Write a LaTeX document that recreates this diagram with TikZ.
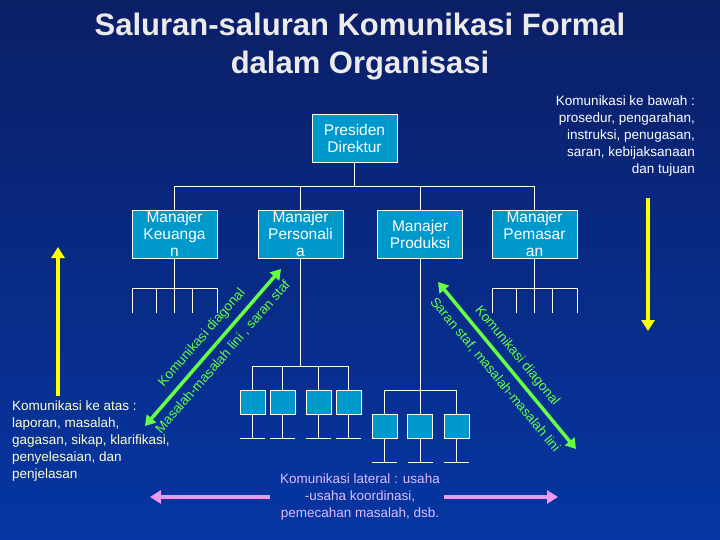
\documentclass[tikz,border=0pt]{standalone}
\usepackage{fontspec}
\setmainfont{Liberation Sans}
\usetikzlibrary{arrows.meta}
\definecolor{bgtop}{HTML}{0B1F66}
\definecolor{bgbot}{HTML}{0636A3}
\definecolor{boxc}{HTML}{0099CC}
\definecolor{grn}{HTML}{66FF44}
\definecolor{yel}{HTML}{FFFF00}
\definecolor{pnk}{HTML}{EE99EE}
\definecolor{lyel}{HTML}{FFFFCC}
\definecolor{lav}{HTML}{DDBBFF}
\begin{document}
\begin{tikzpicture}[x=1pt,y=-1pt,
  box/.style={draw=white,fill=boxc,line width=0.8pt,minimum width=85pt,minimum height=48pt,inner sep=0pt,text=white,align=center,font=\fontsize{15.5}{17}\selectfont},
  sbox/.style={draw=white,fill=boxc,line width=0.8pt,minimum width=25pt,minimum height=24pt,inner sep=0pt},
  ln/.style={draw=white,line width=0.8pt},
  dg/.style={grn,line width=3.5pt,{Triangle[width=12pt,length=10pt]}-{Triangle[width=12pt,length=10pt]}},
  dgt/.style={text=grn,font=\fontsize{13.5}{15}\selectfont,inner sep=0pt},
  bigarrow/.style={line width=4pt,-{Triangle[width=13pt,length=11pt]}}]
\shade[top color=bgtop,bottom color=bgbot] (0,0) rectangle (720,540);
\useasboundingbox (0,0) rectangle (720,540);
% title
\node[text=white!92!black,font=\bfseries\fontsize{31}{38}\selectfont,align=center] (title) at (360,47) {Saluran-saluran Komunikasi Formal\\dalam Organisasi};
% boxes
\node[box] (pd) at (354.5,138) {Presiden\\Direktur};
\node[box] (mk) at (174.5,234) {Manajer\\Keuanga\\n};
\node[box] (mp) at (300.5,234) {Manajer\\Personali\\a};
\node[box] (mpr) at (420,234) {Manajer\\Produksi};
\node[box] (mps) at (534.5,234) {Manajer\\Pemasar\\an};
% top tree
\coordinate (jt) at (354.5,186);
\draw[ln] (pd.south) -- (jt);
\draw[ln] (mk.north) |- (mps.north |- jt) -- (mps.north);
\draw[ln] (mp.north) -- (mp.north |- jt);
\draw[ln] (mpr.north) -- (mpr.north |- jt);
% Keuangan subtree
\coordinate (k0) at (174.5,288);
\draw[ln] (mk.south) -- (k0);
\draw[ln] (132,313) -- (132,288) -- (217,288) -- (217,313);
\foreach \x in {156,174.5,192}{\draw[ln] (\x,288) -- (\x,313);}
% Pemasaran subtree
\coordinate (p0) at (534.5,288);
\draw[ln] (mps.south) -- (p0);
\draw[ln] (492,313) -- (492,288) -- (577,288) -- (577,313);
\foreach \x in {516,534.5,552}{\draw[ln] (\x,288) -- (\x,313);}
% Personalia subtree
\coordinate (s0) at (300.5,366);
\draw[ln] (mp.south) -- (s0);
\draw[ln] (252.5,366) -- (348.5,366);
\foreach \x/\n in {252.5/a,282.5/b,318.5/c,348.5/d}{
  \node[sbox] (s\n) at (\x,402) {};
  \draw[ln] (\x,366) -- (s\n.north);
  \draw[ln] (s\n.south) -- (\x,438);
  \draw[ln] (\x-12.5,438) -- (\x+12.5,438);
}
% Produksi subtree
\coordinate (r0) at (420,390);
\draw[ln] (mpr.south) -- (r0);
\draw[ln] (384.5,390) -- (456.5,390);
\foreach \x/\n in {384.5/a,420/b,456.5/c}{
  \node[sbox] (r\n) at (\x,426) {};
  \draw[ln] (\x,390) -- (r\n.north);
  \draw[ln] (r\n.south) -- (\x,462);
  \draw[ln] (\x-12.5,462) -- (\x+12.5,462);
}
% diagonal arrows
\coordinate (dl1) at (145,426);
\coordinate (dl2) at (281,269);
\draw[dg] (dl1) -- (dl2);
\node[dgt,rotate=49] (tl1) at (202,338) {Komunikasi diagonal};
\node[dgt,rotate=49] (tl2) at (223,357) {Masalah-masalah lini , saran staf};
\coordinate (dr1) at (438,282);
\coordinate (dr2) at (576,449);
\draw[dg] (dr1) -- (dr2);
\node[dgt,rotate=-50.5] (tr1) at (517,356) {Komunikasi diagonal};
\node[dgt,rotate=-50.5] (tr2) at (495,375) {Saran staf, masalah-masalah lini};
% yellow arrows
\coordinate (yd1) at (648,198);
\coordinate (yd2) at (648,331);
\draw[bigarrow,yel] (yd1) -- (yd2);
\coordinate (yu1) at (58,396);
\coordinate (yu2) at (58,247);
\draw[bigarrow,yel] (yu1) -- (yu2);
% pink arrows
\coordinate (pl1) at (270,497);
\coordinate (pl2) at (150,497);
\draw[bigarrow,pnk] (pl1) -- (pl2);
\coordinate (pr1) at (444,497);
\coordinate (pr2) at (558,497);
\draw[bigarrow,pnk] (pr1) -- (pr2);
% texts
\node[text=white,align=right,anchor=north east,inner sep=0pt,font=\fontsize{13.5}{17}\selectfont] (tdown) at (695,96) {Komunikasi ke bawah :\\prosedur, pengarahan,\\instruksi, penugasan,\\saran, kebijaksanaan\\dan tujuan};
\node[text=lyel,align=left,anchor=north west,inner sep=0pt,font=\fontsize{13.5}{17}\selectfont] (tup) at (12,401) {Komunikasi ke atas :\\laporan, masalah,\\gagasan, sikap, klarifikasi,\\penyelesaian, dan\\penjelasan};
\node[text=lav,align=center,inner sep=0pt,font=\fontsize{13.5}{17}\selectfont] (tlat) at (360,497) {Komunikasi lateral : usaha\\-usaha koordinasi,\\pemecahan masalah, dsb.};
\end{tikzpicture}
\end{document}
